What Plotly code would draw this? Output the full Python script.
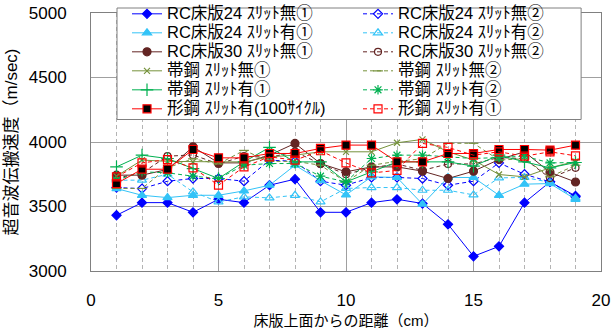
import plotly.graph_objects as go

# ---- data ----
distance_cm = list(range(1, 20))

rc24_nashi_1 = [3432, 3530, 3530, 3455, 3556, 3530, 3665, 3712, 3455, 3455, 3530, 3556, 3523, 3362, 3114, 3191, 3530, 3691, 3582]
rc24_nashi_2 = [3647, 3639, 3696, 3717, 3717, 3696, 3859, 3851, 3696, 3665, 3725, 3725, 3717, 3665, 3696, 3838, 3750, 3691, 3575]
rc24_ari_1 = [3639, 3587, 3569, 3587, 3587, 3621, 3665, 3820, 3700, 3590, 3730, 3725, 3518, 3725, 3725, 3587, 3673, 3678, 3556]
rc24_ari_2 = [3704, 3704, 3750, 3613, 3536, 3575, 3567, 3587, 3536, 3640, 3647, 3647, 3626, 3626, 3590, 3722, 3725, 3688, 3565]
rc30_nashi_1 = [3743, 3743, 3787, 3963, 3838, 3838, 3898, 3989, 3833, 3769, 3807, 3807, 3774, 3717, 3774, 3864, 3924, 3765, 3690]
rc30_nashi_2 = [3720, 3760, 3890, 3900, 3830, 3890, 3880, 3925, 3830, 3750, 3800, 3830, 3780, 3830, 3830, 3880, 3870, 3720, 3800]
obiko_nashi_1 = [3735, 3860, 3850, 3846, 3846, 3846, 3885, 3898, 3924, 3924, 3924, 3994, 4020, 3924, 3860, 3748, 3730, 3800, 3850]
obiko_nashi_2 = [3640, 3640, 3800, 3870, 3830, 3935, 3850, 3850, 3820, 3690, 3820, 3850, 3870, 3990, 3990, 3860, 3870, 3730, 3820]
obiko_ari_1 = [3807, 3898, 3872, 3794, 3717, 3846, 3958, 3846, 3846, 3691, 3769, 3846, 3846, 3846, 3813, 3898, 3846, 3800, 3841]
obiko_ari_2 = [3704, 3769, 3761, 3735, 3717, 3820, 3833, 3833, 3735, 3691, 3872, 3898, 3898, 3885, 3872, 3880, 3890, 3838, 3841]
katako_ari_100 = [3678, 3789, 3789, 3942, 3877, 3877, 3911, 3911, 3950, 3976, 3976, 3846, 3846, 3911, 3911, 3942, 3942, 3937, 3976]
katako_ari_1 = [3730, 3838, 3864, 3800, 3665, 3807, 3885, 3859, 3932, 3838, 3760, 3780, 3989, 3958, 3898, 3924, 3890, 3924, 3893]

series_names = [
    "RC床版24 ｽﾘｯﾄ無①", "RC床版24 ｽﾘｯﾄ無②",
    "RC床版24 ｽﾘｯﾄ有①", "RC床版24 ｽﾘｯﾄ有②",
    "RC床版30 ｽﾘｯﾄ無①", "RC床版30 ｽﾘｯﾄ無②",
    "帯鋼 ｽﾘｯﾄ無①", "帯鋼 ｽﾘｯﾄ無②",
    "帯鋼 ｽﾘｯﾄ有①", "帯鋼 ｽﾘｯﾄ有②",
    "形鋼 ｽﾘｯﾄ有(100ｻｲｸﾙ)", "形鋼 ｽﾘｯﾄ有①",
]
series_values = [
    rc24_nashi_1, rc24_nashi_2, rc24_ari_1, rc24_ari_2,
    rc30_nashi_1, rc30_nashi_2, obiko_nashi_1, obiko_nashi_2,
    obiko_ari_1, obiko_ari_2, katako_ari_100, katako_ari_1,
]

x_tick_vals = [0, 5, 10, 15, 20]
y_tick_vals = [3000, 3500, 4000, 4500, 5000]

# ---- styles ----
BLUE = "#0000FF"
LBLUE = "#33C3F7"
BROWN = "#632523"
OLIVE = "#76923C"
GREEN = "#00B050"
RED = "#FF0000"
DASH = "4px,3px"

styles = [
    dict(color=BLUE, dash="solid", symbol="diamond", size=7, fill=BLUE, mlc=BLUE),
    dict(color=BLUE, dash=DASH, symbol="diamond-open", size=7, fill=BLUE, mlc=BLUE),
    dict(color=LBLUE, dash="solid", symbol="triangle-up", size=8, fill=LBLUE, mlc=LBLUE),
    dict(color=LBLUE, dash=DASH, symbol="triangle-up-open", size=8, fill=LBLUE, mlc=LBLUE),
    dict(color=BROWN, dash="solid", symbol="circle", size=8, fill=BROWN, mlc=BROWN),
    dict(color=BROWN, dash=DASH, symbol="circle-open", size=7, fill=BROWN, mlc=BROWN),
    dict(color=OLIVE, dash="solid", symbol="x-thin-open", size=6, fill=OLIVE, mlc=OLIVE),
    dict(color=OLIVE, dash=DASH, symbol="line-ew-open", size=7, fill=OLIVE, mlc=OLIVE),
    dict(color=GREEN, dash="solid", symbol="cross-thin-open", size=9, fill=GREEN, mlc=GREEN),
    dict(color=GREEN, dash=DASH, symbol="asterisk-open", size=8, fill=GREEN, mlc=GREEN),
    dict(color=RED, dash="solid", symbol="square", size=8, fill="#000000", mlc=RED),
    dict(color=RED, dash=DASH, symbol="square-open", size=8, fill=RED, mlc=RED),
]

FONT = "Arial, 'Liberation Sans', 'Noto Sans CJK JP', sans-serif"

fig = go.Figure()
for name, vals, st in zip(series_names, series_values, styles):
    fig.add_trace(go.Scatter(
        x=distance_cm, y=vals, mode="lines+markers",
        name='<span style="font-size:16.5px">' + name + '</span>',
        line=dict(color=st["color"], width=1, dash=st["dash"]),
        marker=dict(symbol=st["symbol"], size=st["size"], color=st["fill"],
                    line=dict(color=st["mlc"], width=1.2)),
    ))

# legend frame (white box with grey border, behind the legend entries)
fig.add_shape(type="rect", xref="paper", yref="paper",
              x0=0.051, x1=0.961, y0=0.576, y1=1.0,
              fillcolor="white", line=dict(color="#808080", width=1), layer="above")

fig.update_layout(
    width=611, height=331,
    margin=dict(l=91, r=10, t=8, b=60, autoexpand=False),
    paper_bgcolor="white", plot_bgcolor="white",
    font=dict(family=FONT, size=17, color="#000000"),
    showlegend=True,
    legend=dict(
        orientation="h", entrywidth=186, entrywidthmode="pixels",
        x=0.0706, y=1.033, xanchor="left", yanchor="top",
        bgcolor="rgba(0,0,0,0)", borderwidth=0,
        font=dict(family=FONT, size=12, color="#000000"),
        itemwidth=30,
    ),
    xaxis=dict(
        range=[0, 20], tickvals=x_tick_vals, automargin=False,
        showline=True, linecolor="#808080", linewidth=1, mirror=True,
        showgrid=True, gridcolor="#A0A0A0", gridwidth=1,
        minor=dict(dtick=1, showgrid=True, gridcolor="#B4B4B4", griddash="4px,3px", gridwidth=1),
        ticks="", ticklabelstandoff=14, zeroline=False,
        tickfont=dict(size=17),
        title=dict(text="床版上面からの距離（cm）", font=dict(size=15), standoff=6),
    ),
    yaxis=dict(
        range=[3000, 5000], tickvals=y_tick_vals, automargin=False,
        domain=[0, 258 / 263],
        showline=True, linecolor="#808080", linewidth=1, mirror=True,
        showgrid=True, gridcolor="#A0A0A0", gridwidth=1,
        ticks="", ticklabelstandoff=20, zeroline=False,
        tickfont=dict(size=17),
        title=dict(text="超音波伝搬速度（m/sec)", font=dict(size=17), standoff=6),
    ),
)

fig.write_html("out.html", config={"displayModeBar": False},
               post_script="document.body.style.margin='0px';document.body.style.padding='0px';")
